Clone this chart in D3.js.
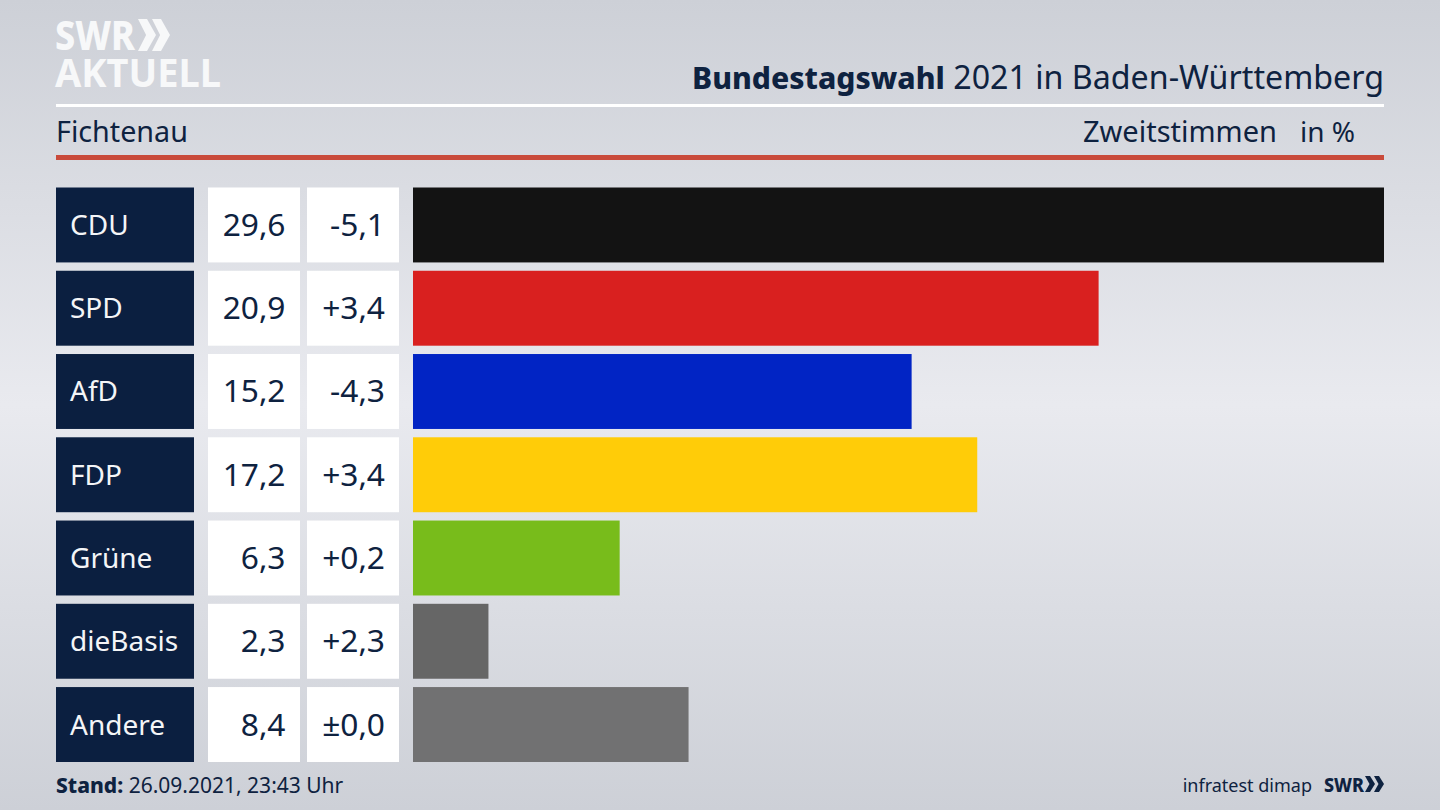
<!DOCTYPE html>
<html><head><meta charset="utf-8">
<script src="https://cdn.jsdelivr.net/npm/d3@7/dist/d3.min.js"></script>
<style>html,body{margin:0;padding:0;background:#dcdee3;overflow:hidden}svg{display:block}text{font-family:"Noto Sans",sans-serif}</style>
</head><body><svg id="c" width="1440" height="810"></svg>
<script>
const parties=["CDU","SPD","AfD","FDP","Grüne","dieBasis","Andere"];
const shares=[29.6,20.9,15.2,17.2,6.3,2.3,8.4];
const shareLabels=["29,6","20,9","15,2","17,2","6,3","2,3","8,4"];
const diffLabels=["-5,1","+3,4","-4,3","+3,4","+0,2","+2,3","±0,0"];
const colors=["#131313","#d9201f","#0124c4","#ffcc08","#78bc1b","#666666","#717172"];
const navy="#0b1f40", ink="#0e2240";

const svg=d3.select("#c");
const defs=svg.append("defs");
const g=defs.append("linearGradient").attr("id","bg").attr("x1",0).attr("x2",0).attr("y1",0).attr("y2",1);
[[0,"#cdd0d7"],[0.5,"#e9eaef"],[1,"#cdd0d7"]].forEach(d=>g.append("stop").attr("offset",d[0]).attr("stop-color",d[1]));
svg.append("rect").attr("width",1440).attr("height",810).attr("fill","url(#bg)");

const x=d3.scaleLinear().domain([0,29.6]).range([413,1384]);
const y=d3.scaleBand().domain(parties).range([187.5,762]).paddingInner(0.1).paddingOuter(0);
const bh=y.bandwidth();

function chevrons(gr,x0,y0,h,w,gap,fill){
  [0,1].forEach(i=>{const a=x0+i*gap;
    gr.append("path").attr("d",`M${a} ${y0}L${a+w*0.5} ${y0}L${a+w} ${y0+h/2}L${a+w*0.5} ${y0+h}L${a} ${y0+h}L${a+w*0.45} ${y0+h/2}Z`).attr("fill",fill);});
}
const logo=svg.append("g");
const lt=logo.append("text").attr("fill","#f7f8f9");
lt.append("tspan").attr("x",55).attr("y",50).attr("font-size",41).attr("font-weight",800).attr("textLength",80).attr("lengthAdjust","spacingAndGlyphs").text("SWR");
lt.append("tspan").attr("x",55).attr("y",87).attr("font-size",40).attr("font-weight",700).attr("textLength",166).attr("lengthAdjust","spacingAndGlyphs").text("AKTUELL");
chevrons(logo,138,19,32,18,14,"#f7f8f9");

const title=svg.append("text").attr("x",1384).attr("y",89).attr("text-anchor","end").attr("fill",ink);
title.append("tspan").attr("font-weight",800).attr("font-size",30.1).text("Bundestagswahl");
title.append("tspan").attr("font-size",32.2).text(" 2021 in Baden-Württemberg");
svg.append("rect").attr("x",56).attr("y",104).attr("width",1328).attr("height",3).attr("fill","#ffffff");
svg.append("text").attr("x",56).attr("y",142).attr("font-size",28.7).attr("fill",ink).text("Fichtenau");
svg.append("text").attr("x",1277).attr("y",142).attr("text-anchor","end").attr("font-size",29).attr("fill",ink).text("Zweitstimmen");
svg.append("text").attr("x",1355).attr("y",142).attr("text-anchor","end").attr("font-size",28).attr("fill",ink).text("in %");
svg.append("rect").attr("x",56).attr("y",155).attr("width",1328).attr("height",5).attr("fill","#c94a3b");

const rows=svg.selectAll("g.row").data(parties).join("g").attr("class","row");
rows.append("rect").attr("x",56).attr("y",d=>y(d)).attr("width",138).attr("height",bh).attr("fill",navy);
rows.append("text").attr("x",70).attr("y",d=>y(d)+bh/2+10).attr("font-size",28).attr("fill","#f4f5f7").text(d=>d);
rows.append("rect").attr("x",208).attr("y",d=>y(d)).attr("width",92).attr("height",bh).attr("fill","#fff");
rows.append("text").attr("x",285.5).attr("y",d=>y(d)+bh/2+11).attr("text-anchor","end").attr("font-size",31.7).attr("fill",ink).text((d,i)=>shareLabels[i]);
rows.append("rect").attr("x",307).attr("y",d=>y(d)).attr("width",92).attr("height",bh).attr("fill","#fff");
rows.append("text").attr("x",385).attr("y",d=>y(d)+bh/2+11).attr("text-anchor","end").attr("font-size",31.7).attr("fill",ink).text((d,i)=>diffLabels[i]);
rows.append("rect").attr("x",x(0)).attr("y",d=>y(d)).attr("width",(d,i)=>x(shares[i])-x(0)).attr("height",bh).attr("fill",(d,i)=>colors[i]);

const st=svg.append("text").attr("x",56).attr("y",793).attr("font-size",21).attr("fill",ink);
st.append("tspan").attr("font-weight",800).text("Stand:");
st.append("tspan").text(" 26.09.2021, 23:43 Uhr");
svg.append("text").attr("x",1312).attr("y",792).attr("text-anchor","end").attr("font-size",18).attr("fill",ink).text("infratest dimap");
const l2=svg.append("g");
l2.append("text").attr("x",1324).attr("y",792).attr("font-size",20).attr("font-weight",800).attr("fill",ink).attr("textLength",40).attr("lengthAdjust","spacingAndGlyphs").text("SWR");
chevrons(l2,1365,776,16,10,9,ink);
</script></body></html>
